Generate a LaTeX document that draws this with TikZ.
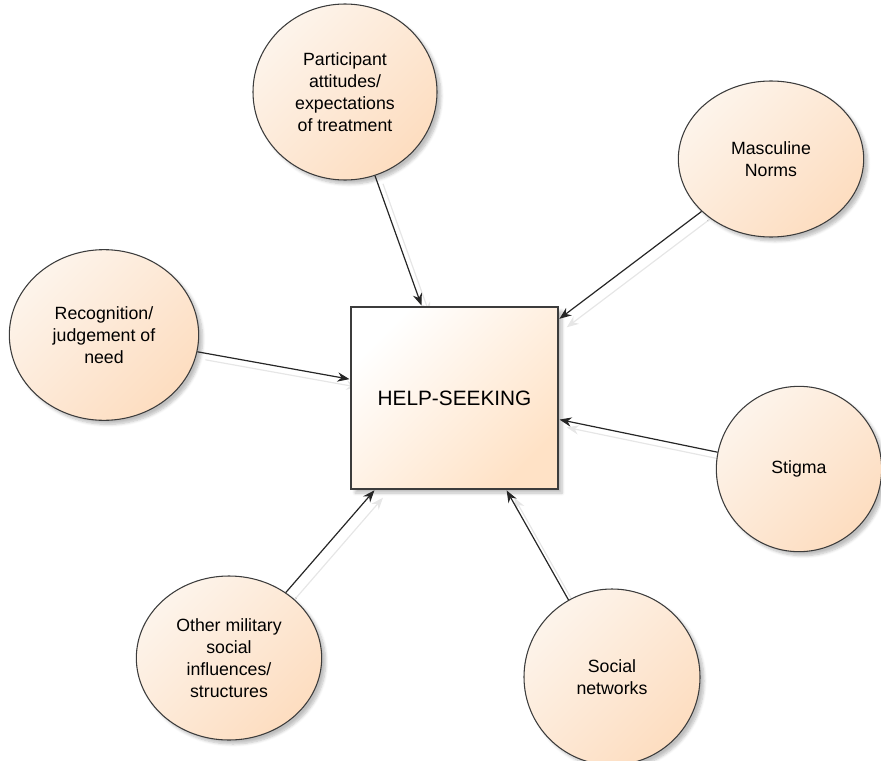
\documentclass[tikz,border=0pt]{standalone}
\usepackage{fontspec}
\setmainfont{Liberation Sans}
\usetikzlibrary{shapes.geometric,arrows.meta,shadows.blur,backgrounds}
\definecolor{peachlight}{HTML}{FDF4EB}
\definecolor{peachdark}{HTML}{FDDDC0}
\definecolor{boxdark}{HTML}{FFE2C6}
\definecolor{edgegray}{HTML}{3C3C3C}
\definecolor{ghost}{HTML}{E6E6E6}
\tikzset{
  factor/.style={ellipse, draw=edgegray, line width=0.8pt, inner sep=0pt,
    top color=peachlight, bottom color=peachdark, shading angle=45,
    align=center, font=\fontsize{13.3}{16.5}\selectfont,
    blur shadow={shadow xshift=3pt, shadow yshift=-3pt, shadow blur steps=6, shadow opacity=25}},
  core/.style={rectangle, draw=edgegray, line width=1.1pt, inner sep=0pt,
    top color=white, bottom color=boxdark, shading angle=45,
    minimum width=155.25pt, minimum height=136.5pt,
    font=\fontsize{15.6}{18}\selectfont,
    blur shadow={shadow xshift=3pt, shadow yshift=-3pt, shadow blur steps=6, shadow opacity=25}},
  influence/.style={draw=black!85, line width=0.9pt, -{Stealth[length=9pt,width=7pt]}, shorten >=0.6pt},
  echo/.style={draw=ghost, line width=0.9pt, -{Stealth[length=9pt,width=7pt]},
    transform canvas={shift={(6pt,-6pt)}}},
}
\begin{document}
\begin{tikzpicture}[x=0.75pt, y=-0.75pt]
\useasboundingbox (0,0) rectangle (881,760);

% central box
\node[core] (hs) at (454.5,398) {HELP-SEEKING};

% surrounding factors
\node[factor, minimum width=138pt, minimum height=132pt] (att) at (345,92)
  {Participant\\attitudes/\\expectations\\of treatment};
\node[factor, minimum width=139pt, minimum height=117pt] (masc) at (771,159)
  {Masculine\\Norms};
\node[factor, minimum width=142pt, minimum height=128pt] (rec) at (104,335)
  {Recognition/\\judgement of\\need};
\node[factor, minimum width=124pt, minimum height=124pt] (stig) at (799,469)
  {Stigma};
\node[factor, minimum width=139pt, minimum height=123pt] (mil) at (229,658)
  {Other military\\social\\influences/\\structures};
\node[factor, minimum width=132pt, minimum height=132pt] (soc) at (612,677)
  {Social\\networks};

% faint offset copies of the connectors, behind the shapes
\begin{pgfonlayer}{background}
\foreach \src in {att,masc,rec,stig,mil,soc}
  \draw[echo] (\src) -- (hs);
\end{pgfonlayer}

% connectors
\foreach \src in {att,masc,rec,stig,mil,soc}
  \draw[influence] (\src) -- (hs);
\end{tikzpicture}
\end{document}
